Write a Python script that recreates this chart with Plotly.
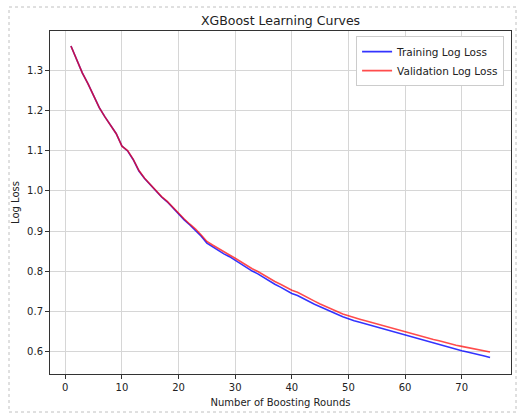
import plotly.graph_objects as go

rounds = list(range(1, 76))

train_logloss = [
    1.362, 1.330, 1.295, 1.268, 1.240, 1.208, 1.185, 1.163, 1.143, 1.112,
    1.100, 1.078, 1.050, 1.031, 1.015, 1.000, 0.985, 0.973, 0.958, 0.942,
    0.928, 0.915, 0.902, 0.887, 0.870, 0.861, 0.851, 0.843, 0.836, 0.827,
    0.818, 0.807, 0.800, 0.793, 0.784, 0.775, 0.767, 0.760, 0.751, 0.744,
    0.739, 0.731, 0.724, 0.717, 0.711, 0.704, 0.698, 0.692, 0.686, 0.680,
    0.676, 0.672, 0.668, 0.665, 0.661, 0.657, 0.652, 0.649, 0.645, 0.641,
    0.637, 0.632, 0.628, 0.625, 0.621, 0.617, 0.613, 0.608, 0.605, 0.601,
    0.598, 0.595, 0.591, 0.588, 0.584,
]

valid_logloss = [
    1.362, 1.330, 1.295, 1.268, 1.240, 1.208, 1.185, 1.163, 1.143, 1.112,
    1.101, 1.079, 1.051, 1.032, 1.016, 1.001, 0.986, 0.974, 0.959, 0.944,
    0.930, 0.917, 0.905, 0.890, 0.874, 0.865, 0.856, 0.848, 0.840, 0.832,
    0.823, 0.813, 0.806, 0.799, 0.790, 0.782, 0.774, 0.767, 0.759, 0.752,
    0.747, 0.739, 0.732, 0.725, 0.718, 0.711, 0.705, 0.699, 0.693, 0.688,
    0.684, 0.680, 0.676, 0.672, 0.668, 0.664, 0.660, 0.656, 0.652, 0.649,
    0.645, 0.641, 0.637, 0.633, 0.629, 0.626, 0.622, 0.618, 0.615, 0.612,
    0.609, 0.606, 0.603, 0.600, 0.598,
]

title_text = "XGBoost Learning Curves"
x_label = "Number of Boosting Rounds"
y_label = "Log Loss"
train_name = "Training Log Loss"
valid_name = "Validation Log Loss"

FONT = "DejaVu Sans, sans-serif"

fig = go.Figure()
fig.add_trace(go.Scatter(x=rounds, y=train_logloss, mode="lines", name=train_name,
                         line=dict(color="rgba(0,0,255,0.8)", width=1.6)))
fig.add_trace(go.Scatter(x=rounds, y=valid_logloss, mode="lines", name=valid_name,
                         line=dict(color="rgba(255,0,0,0.7)", width=1.6)))

axis_common = dict(
    showline=True, linecolor="#333333", linewidth=1, mirror=True,
    ticks="outside", ticklen=4, tickcolor="#333333", tickwidth=1,
    showgrid=True, gridcolor="#d6d6d6", gridwidth=1,
    zeroline=False, tickfont=dict(family=FONT, size=10, color="#222222"),
)

fig.update_xaxes(range=[-2.7, 78.7], tickvals=[0, 10, 20, 30, 40, 50, 60, 70],
                 title=dict(text=x_label, font=dict(family=FONT, size=10, color="#222222"), standoff=6),
                 **axis_common)
fig.update_yaxes(range=[0.543, 1.3995], tickvals=[0.6, 0.7, 0.8, 0.9, 1.0, 1.1, 1.2, 1.3],
                 tickformat=".1f",
                 title=dict(text=y_label, font=dict(family=FONT, size=10, color="#222222"), standoff=5),
                 **axis_common)

fig.update_layout(
    width=520, height=414,
    margin=dict(l=50, r=9, t=31, b=40),
    paper_bgcolor="white", plot_bgcolor="white",
    font=dict(family=FONT, size=10, color="#222222"),
    annotations=[dict(text=title_text, xref="paper", yref="paper",
                      x=0.5, y=(374 - 20) / 343, xanchor="center", yanchor="middle",
                      showarrow=False, font=dict(family=FONT, size=12.5, color="#222222"))],
    legend=dict(x=0.985, y=0.985, xanchor="right", yanchor="top",
                bgcolor="white", bordercolor="#cccccc", borderwidth=1,
                font=dict(family=FONT, size=10.5, color="#222222"),
                itemwidth=30, tracegroupgap=0),
    showlegend=True,
    shapes=[dict(type="rect", xref="paper", yref="paper",
                 x0=(9 - 50) / 461, x1=(516 - 50) / 461,
                 y0=(374 - 412) / 343, y1=(374 - 7) / 343,
                 line=dict(color="#c0c0c0", width=1, dash="dot"),
                 fillcolor="rgba(0,0,0,0)", layer="below")],
)

fig.write_html("out.html")
